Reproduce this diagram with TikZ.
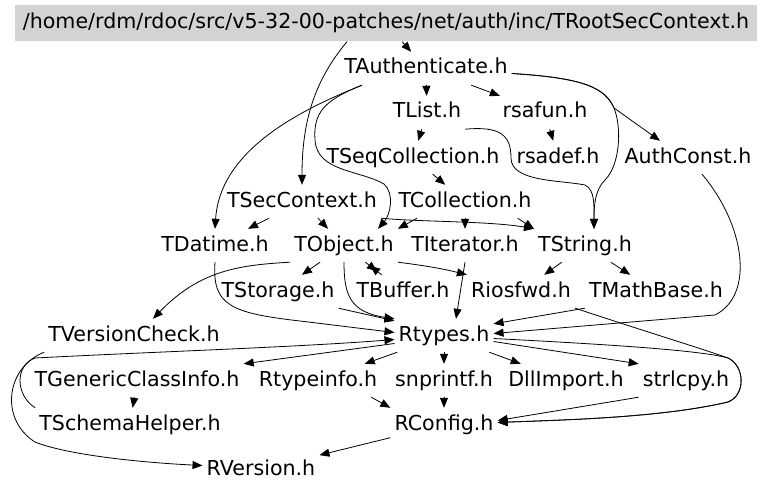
\documentclass[tikz,border=0pt]{standalone}
\usepackage{fontspec}
\setmainfont{DejaVu Sans}
\usetikzlibrary{arrows.meta}
\definecolor{rootgray}{HTML}{D3D3D3}

\begin{document}
\begin{tikzpicture}[x=1pt, y=-1pt,
    hfile/.style={anchor=base, inner xsep=4pt, inner ysep=7pt, text height=15pt, text depth=4pt,
        font=\fontsize{20.6}{24}\selectfont},
    incl/.style={-{Triangle[length=10pt, width=8pt]}, line width=0.8pt},
]
    \useasboundingbox (0,0) rectangle (768,492);

    % Define nodes for the header files
    \node[hfile, fill=rootgray, minimum width=742pt, minimum height=36pt] (root) at (386, 29)
        {/home/rdm/rdoc/src/v5-32-00-patches/net/auth/inc/TRootSecContext.h};
    \node[hfile] (auth) at (426, 74) {TAuthenticate.h};
    \node[hfile] (list) at (427, 118) {TList.h};
    \node[hfile] (rsafun) at (545, 118) {rsafun.h};
    \node[hfile] (seq) at (413, 163) {TSeqCollection.h};
    \node[hfile] (rsadef) at (558, 163) {rsadef.h};
    \node[hfile] (authc) at (688, 163) {AuthConst.h};
    \node[hfile] (secctx) at (302, 207) {TSecContext.h};
    \node[hfile] (coll) at (465, 207) {TCollection.h};
    \node[hfile] (datime) at (215, 251) {TDatime.h};
    \node[hfile] (tobj) at (344, 251) {TObject.h};
    \node[hfile] (iter) at (465, 251) {TIterator.h};
    \node[hfile] (tstr) at (585, 251) {TString.h};
    \node[hfile] (stor) at (278, 297) {TStorage.h};
    \node[hfile] (buf) at (403, 297) {TBuffer.h};
    \node[hfile] (iosfwd) at (521, 297) {Riosfwd.h};
    \node[hfile] (mathb) at (656, 297) {TMathBase.h};
    \node[hfile] (vcheck) at (134, 341) {TVersionCheck.h};
    \node[hfile] (rtypes) at (444, 341) {Rtypes.h};
    \node[hfile] (gci) at (137, 386) {TGenericClassInfo.h};
    \node[hfile] (rtinfo) at (318, 386) {Rtypeinfo.h};
    \node[hfile] (snpr) at (444, 386) {snprintf.h};
    \node[hfile] (dll) at (566, 386) {DllImport.h};
    \node[hfile] (strl) at (686, 386) {strlcpy.h};
    \node[hfile] (schema) at (130, 430) {TSchemaHelper.h};
    \node[hfile] (rconf) at (444, 430) {RConfig.h};
    \node[hfile] (rver) at (261, 475) {RVersion.h};

    % Draw include edges
    \draw[incl] (root) -- (auth);
    \draw[incl] ([xshift=-39pt]root.south) .. controls (315,80) and (302,120) .. (secctx.north);
    \draw[incl] (auth) -- (list);
    \draw[incl] (auth) -- (rsafun);
    \draw[incl] ([yshift=-5pt]auth.east) .. controls (585,78) and (605,88) .. (614,108) -- ([xshift=-28pt]authc.north);
    \draw[incl] ([yshift=-5pt]auth.east) .. controls (585,78) and (605,88) .. (614,108)
        .. controls (622,128) and (620,165) .. (605,180) .. controls (595,190) and (594,205) .. ([xshift=9pt]tstr.north);
    \draw[incl] ([xshift=-64pt]auth.south) .. controls (300,110) and (220,150) .. (datime.north);
    \draw[incl] ([xshift=-64pt]auth.south) .. controls (325,100) and (313,112) .. (315,140)
        .. controls (317,172) and (360,170) .. (384,184) .. controls (395,194) and (390,215) .. ([xshift=34pt]tobj.north);
    \draw[incl] (list) -- (seq);
    \draw[incl] (list.south east) .. controls (500,126) and (511,135) .. (511,158)
        .. controls (511,182) and (560,180) .. (585,185) .. controls (595,190) and (594,205) .. ([xshift=9pt]tstr.north);
    \draw[incl] (rsafun) -- (rsadef);
    \draw[incl] (seq) -- (coll);
    \draw[incl] (secctx) -- (datime);
    \draw[incl] (secctx) -- (tobj);
    \draw[incl] (secctx.south east) .. controls (420,222) and (490,221) .. (tstr.north west);
    \draw[incl] ([xshift=-48pt]coll.south) -- (tobj.north east);
    \draw[incl] (coll) -- (iter);
    \draw[incl] ([xshift=-18pt]coll.south east) -- (tstr.north west);
    \draw[incl] (tobj) -- (stor);
    \draw[incl, shorten >=6pt] (tobj) -- (buf);
    \draw[incl, shorten >=6pt] (buf) -- (tobj);
    \draw[incl] (tobj.south east) .. controls (420,265) and (440,268) .. (iosfwd.north west);
    \draw[incl] (tobj.south) .. controls (344,295) and (350,312) .. (rtypes.north west);
    \draw[incl] (tobj.south west) .. controls (240,265) and (200,270) .. ([xshift=19pt]vcheck.north);
    \draw[incl] (stor.south east) -- ([yshift=-2pt]rtypes.north west);
    \draw[incl] (datime.south) .. controls (212,305) and (230,313) .. (300,321) -- ([yshift=3pt]rtypes.west);
    \draw[incl] (iter.south) -- ([xshift=12pt]rtypes.north);
    \draw[incl] (tstr) -- (iosfwd);
    \draw[incl] (tstr) -- (mathb);
    \draw[incl] (mathb.south west) -- ([yshift=-5pt]rtypes.north east);
    \draw[incl] ([xshift=14pt]authc.south) .. controls (745,225) and (755,295) .. (715,315) -- ([yshift=2pt]rtypes.east);
    \draw[incl] (iosfwd.south east) .. controls (650,333) and (700,348) .. (728,358)
        .. controls (745,366) and (746,395) .. (728,402) .. controls (660,418) and (560,420) .. ([yshift=2pt]rconf.east);
    \draw[incl] ([yshift=-3pt]rtypes.east) .. controls (600,344) and (700,350) .. (728,358)
        .. controls (745,366) and (746,395) .. (728,402) .. controls (660,418) and (560,420) .. ([yshift=2pt]rconf.east);
    \draw[incl] (schema.north west) .. controls (15,395) and (15,365) .. (35,358)
        .. controls (150,352) and (300,347) .. ([yshift=-4pt]rtypes.west);
    \draw[incl] ([yshift=-8pt]rtypes.west) -- (gci.north east);
    \draw[incl] (vcheck.south west) .. controls (5,368) and (0,420) .. (35,442)
        .. controls (70,456) and (150,463) .. ([yshift=4pt]rver.west);
    \draw[incl] (rtypes) -- (rtinfo);
    \draw[incl] (rtypes) -- (snpr);
    \draw[incl] (rtypes) -- (dll);
    \draw[incl] ([yshift=-6pt]rtypes.east) -- (strl.north west);
    \draw[incl] (gci) -- (schema);
    \draw[incl] (snpr) -- (rconf);
    \draw[incl] ([xshift=-10pt]rtinfo.south east) -- (rconf.north west);
    \draw[incl] (strl.south west) -- ([yshift=4pt]rconf.east);
    \draw[incl] (rconf) -- (rver);

\end{tikzpicture}
\end{document}
